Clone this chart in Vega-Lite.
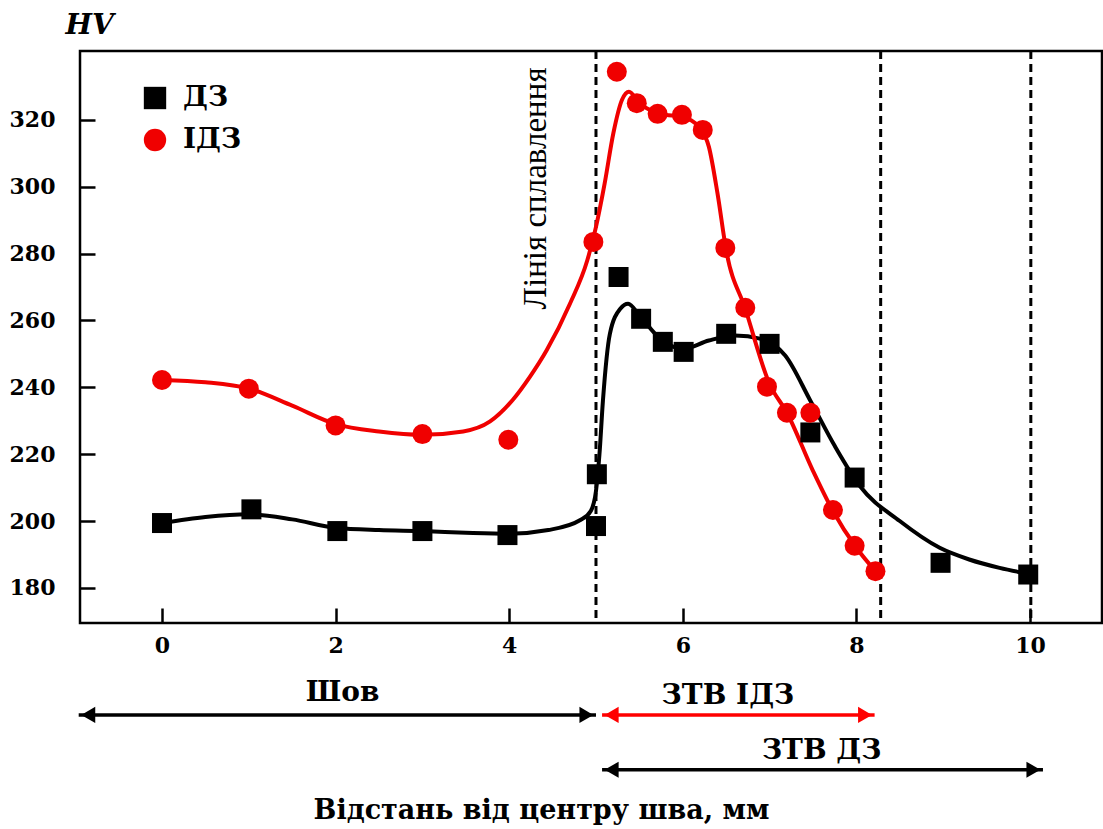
{
  "$schema": "https://vega.github.io/schema/vega-lite/v6.json",
  "width": 1022,
  "height": 572,
  "autosize": {"type": "none"},
  "padding": {"left": 80, "top": 51, "right": 1, "bottom": 206},
  "background": "white",
  "config": {
    "view": {"stroke": "black", "strokeWidth": 2.5},
    "font": "DejaVu Serif"
  },
  "datasets": {
    "points": [
      {"series": "ДЗ", "x": 0, "hv": 199.4},
      {"series": "ДЗ", "x": 1.03, "hv": 203.5},
      {"series": "ДЗ", "x": 2.02, "hv": 197},
      {"series": "ДЗ", "x": 3.0, "hv": 197},
      {"series": "ДЗ", "x": 3.98, "hv": 195.8},
      {"series": "ДЗ", "x": 5.0, "hv": 198.5},
      {"series": "ДЗ", "x": 5.01, "hv": 214},
      {"series": "ДЗ", "x": 5.26, "hv": 273},
      {"series": "ДЗ", "x": 5.52, "hv": 260.5},
      {"series": "ДЗ", "x": 5.77, "hv": 253.6},
      {"series": "ДЗ", "x": 6.01, "hv": 250.6},
      {"series": "ДЗ", "x": 6.5, "hv": 256},
      {"series": "ДЗ", "x": 7.0, "hv": 253},
      {"series": "ДЗ", "x": 7.47, "hv": 226.5},
      {"series": "ДЗ", "x": 7.98, "hv": 213},
      {"series": "ДЗ", "x": 8.97, "hv": 187.5},
      {"series": "ДЗ", "x": 9.98, "hv": 184},
      {"series": "ІДЗ", "x": 0, "hv": 242.2},
      {"series": "ІДЗ", "x": 1.0, "hv": 239.6},
      {"series": "ІДЗ", "x": 2.0, "hv": 228.6},
      {"series": "ІДЗ", "x": 3.0, "hv": 226},
      {"series": "ІДЗ", "x": 3.99, "hv": 224.3},
      {"series": "ІДЗ", "x": 4.97, "hv": 283.5},
      {"series": "ІДЗ", "x": 5.24, "hv": 334.4},
      {"series": "ІДЗ", "x": 5.47, "hv": 325},
      {"series": "ІДЗ", "x": 5.71, "hv": 321.8},
      {"series": "ІДЗ", "x": 5.99, "hv": 321.5},
      {"series": "ІДЗ", "x": 6.23, "hv": 317},
      {"series": "ІДЗ", "x": 6.49, "hv": 281.7},
      {"series": "ІДЗ", "x": 6.72, "hv": 263.8},
      {"series": "ІДЗ", "x": 6.97, "hv": 240.2},
      {"series": "ІДЗ", "x": 7.2, "hv": 232.4},
      {"series": "ІДЗ", "x": 7.47, "hv": 232.4},
      {"series": "ІДЗ", "x": 7.73, "hv": 203.3},
      {"series": "ІДЗ", "x": 7.98, "hv": 192.6},
      {"series": "ІДЗ", "x": 8.22, "hv": 185}
    ],
    "curves": [
      {"series": "ДЗ", "x": 0, "hv": 199.4},
      {"series": "ДЗ", "x": 0.5, "hv": 201.2},
      {"series": "ДЗ", "x": 1.0, "hv": 202},
      {"series": "ДЗ", "x": 1.5, "hv": 200.5},
      {"series": "ДЗ", "x": 2.0, "hv": 198},
      {"series": "ДЗ", "x": 2.5, "hv": 197.3},
      {"series": "ДЗ", "x": 3.0, "hv": 197},
      {"series": "ДЗ", "x": 3.5, "hv": 196.5},
      {"series": "ДЗ", "x": 4.0, "hv": 196.2},
      {"series": "ДЗ", "x": 4.45, "hv": 197.3},
      {"series": "ДЗ", "x": 4.82, "hv": 200.3},
      {"series": "ДЗ", "x": 4.94, "hv": 203},
      {"series": "ДЗ", "x": 5.0, "hv": 209},
      {"series": "ДЗ", "x": 5.04, "hv": 220},
      {"series": "ДЗ", "x": 5.08, "hv": 236},
      {"series": "ДЗ", "x": 5.16, "hv": 256},
      {"series": "ДЗ", "x": 5.28, "hv": 263.5},
      {"series": "ДЗ", "x": 5.37, "hv": 265},
      {"series": "ДЗ", "x": 5.5, "hv": 261.5},
      {"series": "ДЗ", "x": 5.74, "hv": 254.5},
      {"series": "ДЗ", "x": 6.0, "hv": 251.5},
      {"series": "ДЗ", "x": 6.3, "hv": 254},
      {"series": "ДЗ", "x": 6.6, "hv": 255.5},
      {"series": "ДЗ", "x": 6.9, "hv": 254.5},
      {"series": "ДЗ", "x": 7.18, "hv": 249.5},
      {"series": "ДЗ", "x": 7.47, "hv": 236},
      {"series": "ДЗ", "x": 7.75, "hv": 222.5},
      {"series": "ДЗ", "x": 8.04, "hv": 210.5},
      {"series": "ДЗ", "x": 8.5, "hv": 200},
      {"series": "ДЗ", "x": 8.96, "hv": 192},
      {"series": "ДЗ", "x": 9.3, "hv": 188.5},
      {"series": "ДЗ", "x": 9.65, "hv": 186},
      {"series": "ДЗ", "x": 9.98, "hv": 184.2},
      {"series": "ІДЗ", "x": 0, "hv": 242.2},
      {"series": "ІДЗ", "x": 0.5, "hv": 241.5},
      {"series": "ІДЗ", "x": 1.0, "hv": 239.6},
      {"series": "ІДЗ", "x": 1.5, "hv": 234.5},
      {"series": "ІДЗ", "x": 2.0, "hv": 229},
      {"series": "ІДЗ", "x": 2.5, "hv": 226.8},
      {"series": "ІДЗ", "x": 3.0, "hv": 225.8},
      {"series": "ІДЗ", "x": 3.47, "hv": 226.8},
      {"series": "ІДЗ", "x": 3.78, "hv": 229.8},
      {"series": "ІДЗ", "x": 4.04, "hv": 236.2},
      {"series": "ІДЗ", "x": 4.24, "hv": 243.2},
      {"series": "ІДЗ", "x": 4.43, "hv": 251},
      {"series": "ІДЗ", "x": 4.7, "hv": 265},
      {"series": "ІДЗ", "x": 4.9, "hv": 278},
      {"series": "ІДЗ", "x": 5.0, "hv": 288},
      {"series": "ІДЗ", "x": 5.1, "hv": 301},
      {"series": "ІДЗ", "x": 5.2, "hv": 316},
      {"series": "ІДЗ", "x": 5.3, "hv": 326},
      {"series": "ІДЗ", "x": 5.38, "hv": 328.4},
      {"series": "ІДЗ", "x": 5.5, "hv": 325},
      {"series": "ІДЗ", "x": 5.75, "hv": 321.8},
      {"series": "ІДЗ", "x": 6.0, "hv": 320.8},
      {"series": "ІДЗ", "x": 6.2, "hv": 317.5},
      {"series": "ІДЗ", "x": 6.3, "hv": 312},
      {"series": "ІДЗ", "x": 6.4, "hv": 298},
      {"series": "ІДЗ", "x": 6.5, "hv": 281},
      {"series": "ІДЗ", "x": 6.72, "hv": 263.5},
      {"series": "ІДЗ", "x": 7.0, "hv": 241},
      {"series": "ІДЗ", "x": 7.2, "hv": 232.4},
      {"series": "ІДЗ", "x": 7.5, "hv": 215},
      {"series": "ІДЗ", "x": 7.73, "hv": 203},
      {"series": "ІДЗ", "x": 8.0, "hv": 192},
      {"series": "ІДЗ", "x": 8.22, "hv": 185}
    ],
    "vlines": [{"x": 5.0}, {"x": 8.28}, {"x": 10.01}],
    "arrows": [
      {"name": "Шов", "start": -0.96, "end": 5.0, "y": 142, "color": "black"},
      {"name": "ЗТВ ІДЗ", "start": 5.07, "end": 8.21, "y": 142, "color": "red"},
      {"name": "ЗТВ ДЗ", "start": 5.07, "end": 10.15, "y": 125.6, "color": "black"}
    ],
    "heads": [
      {"x": -0.85, "y": 142, "dir": "triangle-left", "color": "black"},
      {"x": 4.89, "y": 142, "dir": "triangle-right", "color": "black"},
      {"x": 5.18, "y": 142, "dir": "triangle-left", "color": "red"},
      {"x": 8.1, "y": 142, "dir": "triangle-right", "color": "red"},
      {"x": 5.18, "y": 125.6, "dir": "triangle-left", "color": "black"},
      {"x": 10.04, "y": 125.6, "dir": "triangle-right", "color": "black"}
    ],
    "labels": [
      {"text": "Шов", "x": 2.08, "y": 148.6},
      {"text": "ЗТВ ІДЗ", "x": 6.52, "y": 147.6},
      {"text": "ЗТВ ДЗ", "x": 7.6, "y": 131.2}
    ],
    "vlabel": [{"text": "Лінія сплавлення", "x": 4.31, "y": 299.5}]
  },
  "layer": [
    {
      "data": {"name": "vlines"},
      "mark": {"type": "rule", "color": "black", "strokeWidth": 3, "strokeDash": [8, 5]},
      "encoding": {"x": {"field": "x", "type": "quantitative", "scale": {"domain": [-0.945, 10.83], "nice": false, "zero": false}}}
    },
    {
      "data": {"name": "curves"},
      "transform": [{"filter": "datum.series == 'ДЗ'"}],
      "mark": {"type": "line", "color": "black", "strokeWidth": 4, "interpolate": "monotone"},
      "encoding": {
        "x": {"field": "x", "type": "quantitative"},
        "y": {"field": "hv", "type": "quantitative", "scale": {"domain": [169.5, 340.6], "nice": false, "zero": false}}
      }
    },
    {
      "data": {"name": "curves"},
      "transform": [{"filter": "datum.series == 'ІДЗ'"}],
      "mark": {"type": "line", "color": "#f00000", "strokeWidth": 4, "interpolate": "monotone"},
      "encoding": {
        "x": {"field": "x", "type": "quantitative"},
        "y": {"field": "hv", "type": "quantitative"}
      }
    },
    {
      "data": {"name": "points"},
      "mark": {"type": "point", "filled": true, "opacity": 1, "size": 400},
      "encoding": {
        "x": {
          "field": "x", "type": "quantitative",
          "scale": {"domain": [-0.945, 10.83], "nice": false, "zero": false},
          "axis": {
            "values": [0, 2, 4, 6, 8, 10], "format": "d", "grid": false, "domain": false,
            "offset": -15, "tickSize": 15, "tickWidth": 2.5, "tickColor": "black",
            "labelFont": "DejaVu Serif", "labelFontWeight": "bold", "labelFontSize": 22, "labelColor": "black",
            "labelPadding": 12,
            "title": "Відстань від центру шва, мм",
            "titleFont": "DejaVu Serif", "titleFontWeight": "bold", "titleFontSize": 27, "titleColor": "black",
            "titleX": 461, "titleY": 202, "titleAlign": "center", "titleBaseline": "middle"
          }
        },
        "y": {
          "field": "hv", "type": "quantitative",
          "scale": {"domain": [169.5, 340.6], "nice": false, "zero": false},
          "axis": {
            "values": [180, 200, 220, 240, 260, 280, 300, 320], "grid": false, "domain": false,
            "offset": -15, "tickSize": 15, "tickWidth": 2.5, "tickColor": "black",
            "labelFont": "DejaVu Serif", "labelFontWeight": "bold", "labelFontSize": 22, "labelColor": "black",
            "labelPadding": 25,
            "title": "HV", "titleAngle": 0, "titleX": -30, "titleY": -26, "titleAlign": "left", "titleBaseline": "middle",
            "titleFont": "DejaVu Serif", "titleFontWeight": "bold", "titleFontStyle": "italic", "titleFontSize": 28, "titleColor": "black"
          }
        },
        "color": {
          "field": "series", "type": "nominal",
          "scale": {"domain": ["ДЗ", "ІДЗ"], "range": ["black", "#f00000"]},
          "legend": {
            "title": null, "orient": "none", "legendX": 61, "legendY": 33, "padding": 0,
            "labelFont": "DejaVu Serif", "labelFontSize": 28, "labelFontWeight": "bold", "labelColor": "black",
            "symbolSize": 500, "rowPadding": 14, "labelOffset": 14
          }
        },
        "shape": {
          "field": "series", "type": "nominal",
          "scale": {"domain": ["ДЗ", "ІДЗ"], "range": ["square", "circle"]},
          "legend": {
            "title": null, "orient": "none", "legendX": 61, "legendY": 33, "padding": 0,
            "labelFont": "DejaVu Serif", "labelFontSize": 28, "labelFontWeight": "bold", "labelColor": "black",
            "symbolSize": 500, "rowPadding": 14, "labelOffset": 14
          }
        }
      }
    },
    {
      "data": {"name": "vlabel"},
      "mark": {"type": "text", "angle": 270, "font": "Liberation Serif", "fontSize": 33, "color": "black", "align": "center", "baseline": "middle"},
      "encoding": {
        "x": {"field": "x", "type": "quantitative"},
        "y": {"field": "y", "type": "quantitative"},
        "text": {"field": "text"}
      }
    },
    {
      "data": {"name": "arrows"},
      "mark": {"type": "rule", "strokeWidth": 3.5},
      "encoding": {
        "x": {"field": "start", "type": "quantitative"},
        "x2": {"field": "end"},
        "y": {"field": "y", "type": "quantitative"},
        "color": {"field": "color", "type": "nominal", "scale": null}
      }
    },
    {
      "data": {"name": "heads"},
      "mark": {"type": "point", "filled": true, "opacity": 1, "size": 260},
      "encoding": {
        "x": {"field": "x", "type": "quantitative"},
        "y": {"field": "y", "type": "quantitative"},
        "shape": {"field": "dir", "type": "nominal", "scale": null},
        "color": {"field": "color", "type": "nominal", "scale": null}
      }
    },
    {
      "data": {"name": "labels"},
      "mark": {"type": "text", "font": "DejaVu Serif", "fontSize": 28, "fontWeight": "bold", "color": "black", "align": "center", "baseline": "middle"},
      "encoding": {
        "x": {"field": "x", "type": "quantitative"},
        "y": {"field": "y", "type": "quantitative"},
        "text": {"field": "text"}
      }
    }
  ]
}
